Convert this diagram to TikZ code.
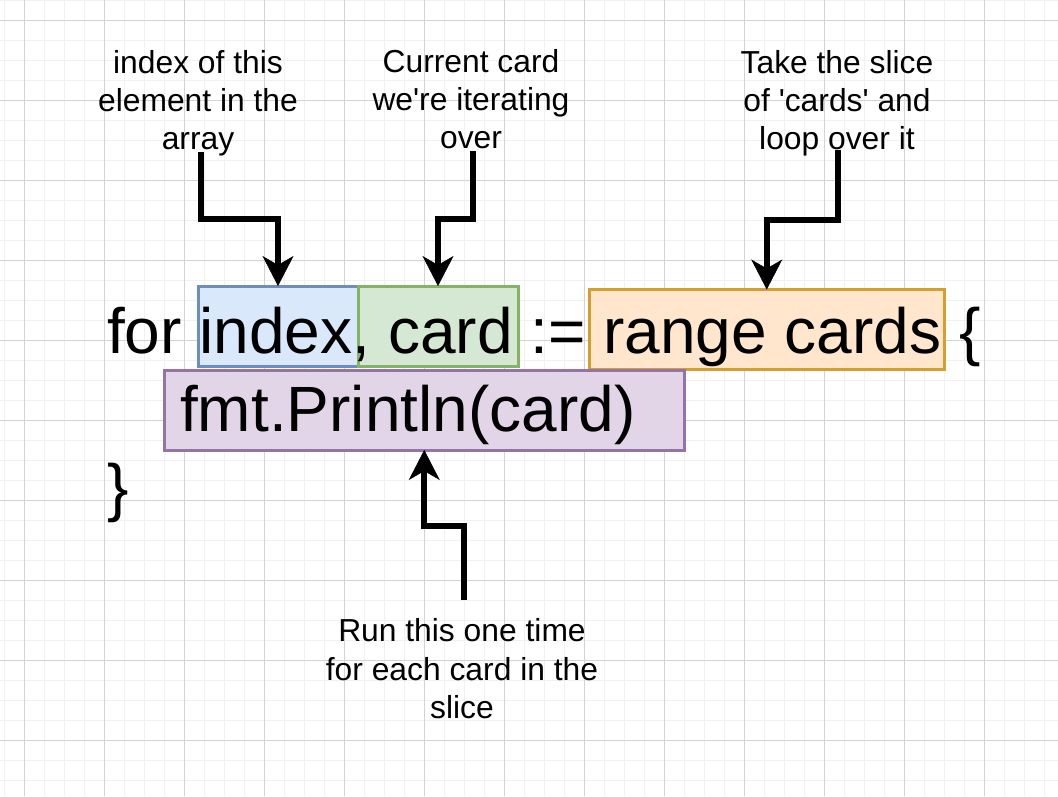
\documentclass[tikz,border=0pt]{standalone}
\usepackage{fontspec}
\setmainfont{Liberation Sans}[Ligatures=TeXOff]
\usetikzlibrary{arrows.meta}

\definecolor{gridminor}{HTML}{F1F1F1}
\definecolor{gridmajor}{HTML}{D3D3D3}
\definecolor{blueFill}{HTML}{DAE8FC}
\definecolor{blueLine}{HTML}{6C8EBF}
\definecolor{greenFill}{HTML}{D5E8D4}
\definecolor{greenLine}{HTML}{82B366}
\definecolor{orangeFill}{HTML}{FFE6CC}
\definecolor{orangeLine}{HTML}{D69E2E}
\definecolor{purpleFill}{HTML}{E1D5E7}
\definecolor{purpleLine}{HTML}{9673A6}

\begin{document}
\begin{tikzpicture}[x=1pt,y=-1pt,
  hl/.style={draw, line width=3pt, inner sep=0pt, outer sep=0pt},
  code/.style={inner sep=0pt, anchor=base west, font=\fontsize{64}{78}\selectfont},
  note/.style={inner sep=0pt, anchor=north, align=center, font=\fontsize{31.8}{38.3}\selectfont},
  pointer/.style={line width=6pt,
    -{Stealth[length=30pt,width=31pt,inset=9pt,line width=0.5pt]}}
]
% canvas
\fill[white] (0,0) rectangle (1058,796);
\useasboundingbox (0,0) rectangle (1058,796);

% background grid: fine lines every 20, heavier lines every 80
\foreach \i in {0,...,52}
  \draw[gridminor, line width=1pt] (4.7+20*\i,0) -- (4.7+20*\i,796);
\foreach \j in {0,...,39}
  \draw[gridminor, line width=1pt] (0,0.7+20*\j) -- (1058,0.7+20*\j);
\foreach \i in {0,...,12}
  \draw[gridmajor, line width=1pt] (24.7+80*\i,0) -- (24.7+80*\i,796);
\foreach \j in {0,...,9}
  \draw[gridmajor, line width=1pt] (0,20.7+80*\j) -- (1058,20.7+80*\j);

% highlight boxes behind the code
\node[hl, fill=blueFill, draw=blueLine, minimum width=160, minimum height=80] (idx) at (278,326) {};
\node[hl, fill=greenFill, draw=greenLine, minimum width=160, minimum height=80] (card) at (438,326) {};
\node[hl, fill=orangeFill, draw=orangeLine, minimum width=355, minimum height=80] (rng) at (766.75,329.5) {};
\node[hl, fill=purpleFill, draw=purpleLine, minimum width=520, minimum height=80] (fmt) at (424.25,410) {};

% the code
\node[code] (line1) at (107,353) {for index, card := range cards \{};
\node[code] (line2) at (180,431) {fmt.Println(card)};
\node[code] (line3) at (107,509) {\}};

% annotations
\node[note] (lab1) at (198,49.8) {index of this\\element in the\\array};
\node[note] (lab2) at (471,48.8) {Current card\\we're iterating\\over};
\node[note] (lab3) at (837,49.8) {Take the slice\\of 'cards' and\\loop over it};
\node[note] (lab4) at (462,618.5) {Run this one time\\for each card in the\\slice};

% pointer tails
\coordinate (t1) at (201,151.5);
\coordinate (t2) at (472.5,151);
\coordinate (t3) at (837.7,150);
\coordinate (t4) at (464,600);

% pointers
\draw[pointer] (t1) -- ++(0,67.5) -| (idx.north);
\draw[pointer] (t2) -- ++(0,68) -| (card.north);
\draw[pointer] (t3) -- ++(0,70) -| (rng.north);
\draw[pointer] (t4) -- ++(0,-74) -| (fmt.south);
\end{tikzpicture}
\end{document}
